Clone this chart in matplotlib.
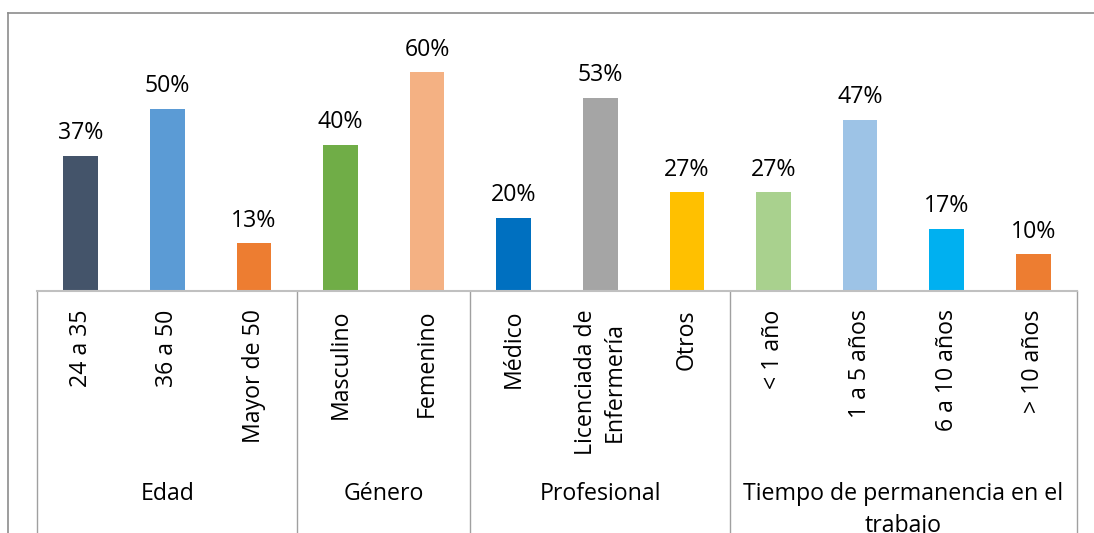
import matplotlib.pyplot as plt
from matplotlib.lines import Line2D

plt.rcParams['font.family'] = ['Open Sans', 'DejaVu Sans']

# Data: share of respondents per category, grouped by characteristic
groups = ['Edad', 'Género', 'Profesional', 'Tiempo de permanencia en el\ntrabajo']
group_sizes = [3, 2, 3, 4]
categories = ['24 a 35', '36 a 50', 'Mayor de 50',
              'Masculino', 'Femenino',
              'Médico', 'Licenciada de\nEnfermería', 'Otros',
              '< 1 año', '1 a 5 años', '6 a 10 años', '> 10 años']
values = [0.37, 0.50, 0.13,
          0.40, 0.60,
          0.20, 0.53, 0.27,
          0.27, 0.47, 0.17, 0.10]
colors = ['#44546A', '#5B9BD5', '#ED7D31',
          '#70AD47', '#F4B183',
          '#0070C0', '#A5A5A5', '#FFC000',
          '#A9D18E', '#9DC3E6', '#00B0F0', '#ED7D31']

FS = 16.7

W, H = 1094, 533
fig = plt.figure(figsize=(W / 100, H / 100), dpi=100)

# plot area in pixel terms
x0, x1 = 37.5, 1076.5
y_base, y_top = 290.7, 35.9
ax = fig.add_axes([x0 / W, 1 - y_base / H, (x1 - x0) / W, (y_base - y_top) / H])

x = list(range(len(categories)))
ax.bar(x, values, width=0.40, color=colors, zorder=2)
ax.set_xlim(-0.5, len(categories) - 0.5)
ax.set_ylim(0, 0.70)

for xi, v in zip(x, values):
    ax.annotate(f'{v:.0%}', xy=(xi, v), xytext=(0, 12), textcoords='offset points',
                ha='center', va='baseline', fontsize=FS, color='#000000')

for s in ['top', 'left', 'right']:
    ax.spines[s].set_visible(False)
ax.spines['bottom'].set_color('#c0c0c0')
ax.spines['bottom'].set_linewidth(1.5)
ax.set_yticks([])
ax.set_xticks([])

# first level: rotated category labels
for xi, cat in zip(x, categories):
    ax.annotate(cat, xy=(xi, 0), xycoords=('data', 'axes fraction'),
                xytext=(0, -13.5), textcoords='offset points',
                rotation=90, ha='center', va='top', multialignment='center',
                fontsize=FS, linespacing=1.3, color='#000000')

# second level: group labels and separators
trans = ax.get_xaxis_transform()
start = -0.5
ax.plot([start, start], [0, -1.0], transform=trans, color='#a0a0a0', lw=1.0, clip_on=False)
for g, n in zip(groups, group_sizes):
    end = start + n
    ax.plot([end, end], [0, -1.0], transform=trans, color='#a0a0a0', lw=1.0, clip_on=False)
    ax.annotate(g, xy=((start + end) / 2, 0), xycoords=('data', 'axes fraction'),
                xytext=(0, -137.5), textcoords='offset points',
                ha='center', va='top', multialignment='center',
                fontsize=FS, linespacing=1.45, color='#000000')
    start = end

# outer chart border (left and top edges)
bx, by = 8.3 / W, 1 - 13.3 / H
fig.add_artist(Line2D([bx, bx], [by, -0.05], transform=fig.transFigure,
                      color='#8c8c8c', lw=1.2))
fig.add_artist(Line2D([bx, 1.05], [by, by], transform=fig.transFigure,
                      color='#8c8c8c', lw=1.2))

fig.savefig('out.png', dpi=100)
